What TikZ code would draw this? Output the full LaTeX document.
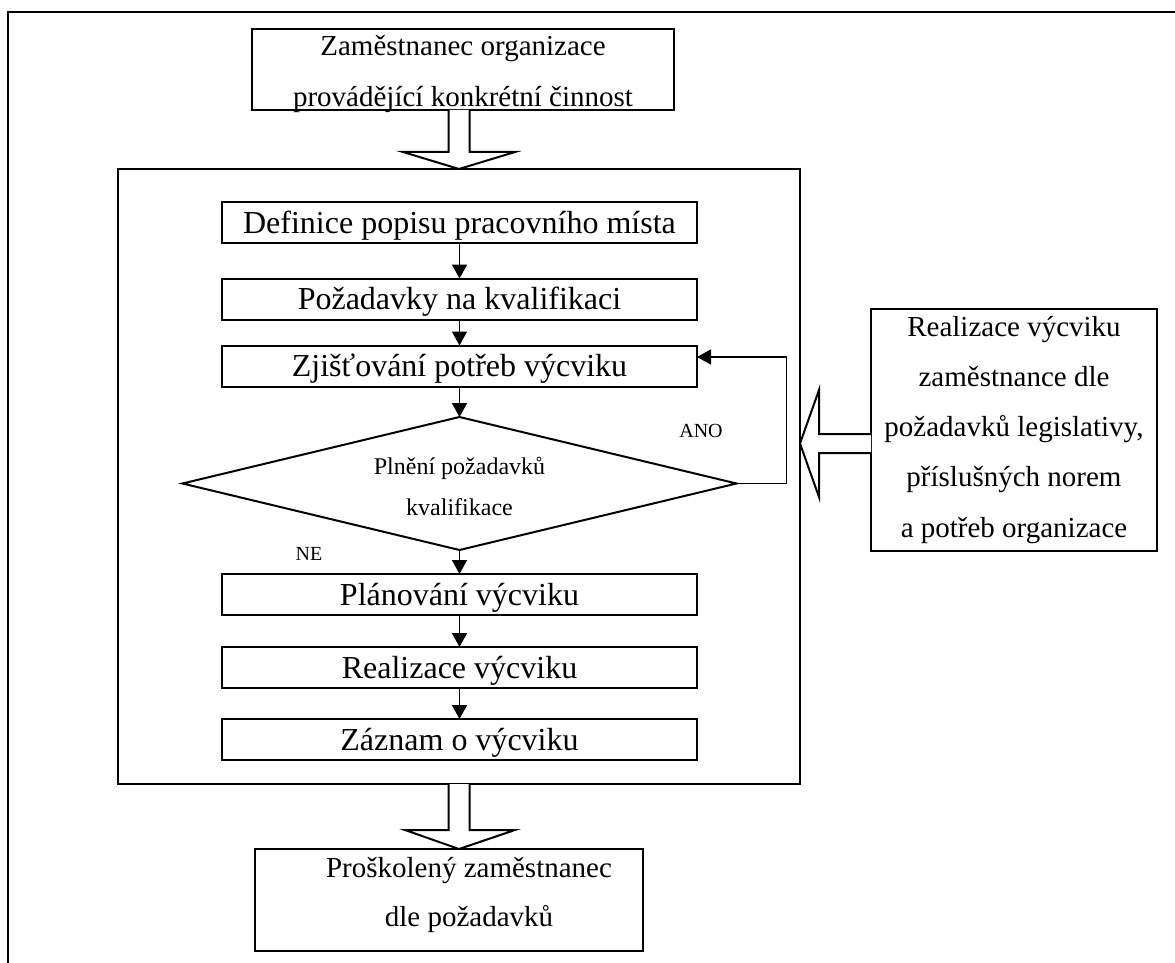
\documentclass[tikz,border=0pt]{standalone}
\usepackage{fontspec}
\setmainfont{Liberation Serif}
\usetikzlibrary{arrows.meta,shapes.geometric,calc}
\newcommand\mlines[1]{\vbox{\halign{\hfil##\hfil\cr#1\crcr}}}
\begin{document}
\begin{tikzpicture}[x=1pt,y=-1pt,
  every node/.style={inner sep=0pt, outer sep=0pt},
  stepbox/.style={draw, line width=2pt, minimum width=475, minimum height=41,
    font=\fontsize{32}{38}\selectfont, text height=21, text depth=0},
  txtbox/.style={draw, line width=2pt, font=\fontsize{29}{51}\selectfont, text depth=0},
  conn/.style={line width=1.5pt, -{Triangle[length=14pt,width=15pt]}},
  blk/.style={draw, line width=2pt, fill=white, line join=miter},
  lbl/.style={font=\fontsize{20}{24}\selectfont, text height=13, text depth=0}
]
\useasboundingbox (0,0) rectangle (1175,963);
\fill[white] (0,0) rectangle (1175,963);
% outer frame (top and left only visible)
\draw[line width=2.5pt] (1175,12) -- (8,12) -- (8,963);

% big process box
\node[draw, line width=2pt, minimum width=682, minimum height=615] (big) at (459,476.5) {};

% top box
\node[txtbox, minimum width=422, minimum height=81, text height=74] (top) at (463,69.5)
  {\mlines{Zaměstnanec organizace\cr provádějící konkrétní činnost}};

% steps
\node[stepbox] (def) at (459.5,222.5) {Definice popisu pracovního místa};
\node[stepbox] (poz) at (459.5,299) {Požadavky na kvalifikaci};
\node[stepbox] (zj)  at (459.5,366) {Zjišťování potřeb výcviku};
\node[draw, line width=2pt, diamond, shape aspect=4.17, minimum width=554, minimum height=133,
  font=\fontsize{24}{41}\selectfont, text height=63, text depth=0] (dia) at (459.5,483.5)
  {\mlines{Plnění požadavků\cr kvalifikace}};
\node[stepbox] (pla) at (459.5,594.5) {Plánování výcviku};
\node[stepbox] (rea) at (459.5,667.5) {Realizace výcviku};
\node[stepbox] (zaz) at (459.5,739.5) {Záznam o výcviku};

% right box
\node[txtbox, minimum width=286, minimum height=242, text height=214,
  font=\fontsize{29}{50.25}\selectfont] (right) at (1014,430)
  {\mlines{Realizace výcviku\cr zaměstnance dle\cr požadavků legislativy,\cr příslušných norem\cr a potřeb organizace}};

% bottom box
\node[txtbox, minimum width=388, minimum height=102, text height=52,
  font=\fontsize{29}{49}\selectfont] (bot) at (449,900)
  {\hskip40pt\mlines{Proškolený zaměstnanec\cr dle požadavků}};

% connectors
\draw[conn] (def) -- (poz);
\draw[conn] (poz) -- (zj);
\draw[conn] (zj) -- (dia);
\draw[conn] (dia) -- (pla);
\draw[conn] (pla) -- (rea);
\draw[conn] (rea) -- (zaz);
\draw[conn] (dia.east) -- ++(50,0) |- ([yshift=9pt]zj.east);

% labels
\node[lbl] (ano) at (701,431) {ANO};
\node[lbl] (ne) at (309,554) {NE};

% block arrows
\draw[blk] ($(top.south -| big.north)+(-10.5,0)$) -- ($(big.north)+(-10.5,-17)$) -- ($(big.north)+(-56,-17)$)
  -- (big.north) -- ($(big.north)+(56,-17)$) -- ($(big.north)+(10.5,-17)$) -- ($(top.south -| big.north)+(10.5,0)$);
\coordinate (tipB) at (big.south |- bot.north);
\draw[blk] ($(big.south)+(-10.5,0)$) -- ($(tipB)+(-10.5,-19)$) -- ($(tipB)+(-54,-19)$)
  -- (tipB) -- ($(tipB)+(56,-19)$) -- ($(tipB)+(10.5,-19)$) -- ($(big.south)+(10.5,0)$);
\coordinate (tipL) at ($(big.east |- right.west)+(0,13.5)$);
\draw[blk] ($(right.west)+(0,4)$) -- ($(tipL)+(19,-9.5)$) -- ($(tipL)+(19,-53.5)$) -- (tipL)
  -- ($(tipL)+(19,53.5)$) -- ($(tipL)+(19,9.5)$) -- ($(right.west)+(0,23)$);
\end{tikzpicture}
\end{document}
